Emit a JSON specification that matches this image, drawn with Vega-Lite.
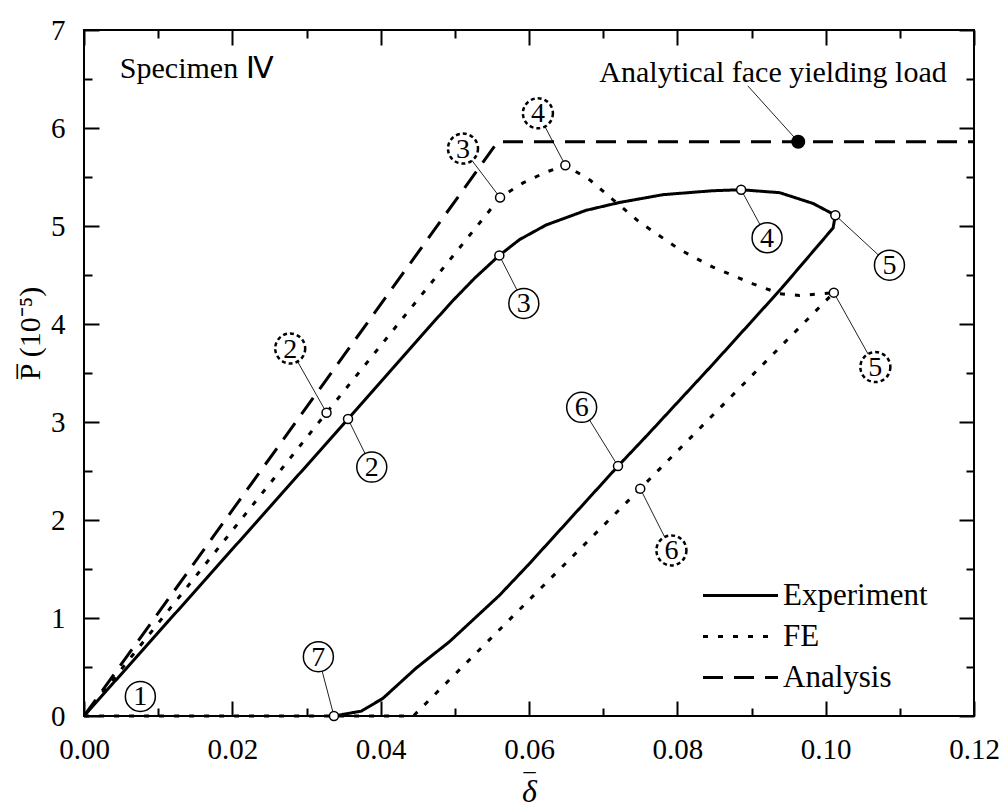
{
  "$schema": "https://vega.github.io/schema/vega-lite/v6.json",
  "width": 890,
  "height": 686,
  "autosize": {"type": "none"},
  "padding": {"left": 84, "top": 30, "right": 29, "bottom": 92},
  "config": {
    "font": "Liberation Serif",
    "view": {"stroke": "black", "strokeWidth": 2},
    "style": {"guide-label": {"font": "Liberation Serif"}, "guide-title": {"font": "Liberation Serif"}},
    "axis": {"domain": false, "grid": false, "tickColor": "black", "tickWidth": 2, "labelColor": "black", "labelFont": "Liberation Serif", "labelFontSize": 29, "titleFont": "Liberation Serif", "titleColor": "black", "titleFontWeight": "normal", "labelFlush": false, "labelOverlap": false, "labelBound": false}
  },
  "datasets": {
    "curves": [
      {"s": "Experiment", "i": 0, "d": 0, "p": 0},
      {"s": "Experiment", "i": 1, "d": 0.0356, "p": 3.03},
      {"s": "Experiment", "i": 2, "d": 0.0462, "p": 3.94},
      {"s": "Experiment", "i": 3, "d": 0.0495, "p": 4.22},
      {"s": "Experiment", "i": 4, "d": 0.0527, "p": 4.47},
      {"s": "Experiment", "i": 5, "d": 0.056, "p": 4.7},
      {"s": "Experiment", "i": 6, "d": 0.0587, "p": 4.86},
      {"s": "Experiment", "i": 7, "d": 0.0623, "p": 5.01},
      {"s": "Experiment", "i": 8, "d": 0.0677, "p": 5.16},
      {"s": "Experiment", "i": 9, "d": 0.0722, "p": 5.24},
      {"s": "Experiment", "i": 10, "d": 0.0781, "p": 5.32},
      {"s": "Experiment", "i": 11, "d": 0.0848, "p": 5.36},
      {"s": "Experiment", "i": 12, "d": 0.0886, "p": 5.37},
      {"s": "Experiment", "i": 13, "d": 0.0938, "p": 5.34},
      {"s": "Experiment", "i": 14, "d": 0.0983, "p": 5.23},
      {"s": "Experiment", "i": 15, "d": 0.1013, "p": 5.11},
      {"s": "Experiment", "i": 16, "d": 0.101, "p": 4.98},
      {"s": "Experiment", "i": 17, "d": 0.094, "p": 4.36},
      {"s": "Experiment", "i": 18, "d": 0.0848, "p": 3.59},
      {"s": "Experiment", "i": 19, "d": 0.076, "p": 2.87},
      {"s": "Experiment", "i": 20, "d": 0.072, "p": 2.55},
      {"s": "Experiment", "i": 21, "d": 0.066, "p": 2.05},
      {"s": "Experiment", "i": 22, "d": 0.06, "p": 1.55},
      {"s": "Experiment", "i": 23, "d": 0.056, "p": 1.23},
      {"s": "Experiment", "i": 24, "d": 0.0493, "p": 0.76},
      {"s": "Experiment", "i": 25, "d": 0.0448, "p": 0.49},
      {"s": "Experiment", "i": 26, "d": 0.0403, "p": 0.18},
      {"s": "Experiment", "i": 27, "d": 0.0374, "p": 0.05},
      {"s": "Experiment", "i": 28, "d": 0.0337, "p": 0.0},
      {"s": "FE", "i": 0, "d": 0, "p": 0},
      {"s": "FE", "i": 1, "d": 0.0327, "p": 3.095},
      {"s": "FE", "i": 2, "d": 0.0561, "p": 5.29},
      {"s": "FE", "i": 3, "d": 0.0592, "p": 5.44},
      {"s": "FE", "i": 4, "d": 0.0623, "p": 5.55},
      {"s": "FE", "i": 5, "d": 0.0649, "p": 5.62},
      {"s": "FE", "i": 6, "d": 0.0682, "p": 5.47},
      {"s": "FE", "i": 7, "d": 0.0713, "p": 5.27},
      {"s": "FE", "i": 8, "d": 0.0749, "p": 5.04},
      {"s": "FE", "i": 9, "d": 0.0803, "p": 4.76},
      {"s": "FE", "i": 10, "d": 0.0848, "p": 4.58},
      {"s": "FE", "i": 11, "d": 0.0902, "p": 4.41},
      {"s": "FE", "i": 12, "d": 0.0938, "p": 4.31},
      {"s": "FE", "i": 13, "d": 0.0965, "p": 4.29},
      {"s": "FE", "i": 14, "d": 0.1011, "p": 4.32},
      {"s": "FE", "i": 15, "d": 0.075, "p": 2.32},
      {"s": "FE", "i": 16, "d": 0.0444, "p": 0.0},
      {"s": "FE", "i": 17, "d": 0.0, "p": 0.0},
      {"s": "Analysis", "i": 0, "d": 0, "p": 0},
      {"s": "Analysis", "i": 1, "d": 0.0558, "p": 5.86},
      {"s": "Analysis", "i": 2, "d": 0.12, "p": 5.86}
    ],
    "markers": [
      {"s": "Experiment", "d": 0.0356, "p": 3.03},
      {"s": "Experiment", "d": 0.056, "p": 4.7},
      {"s": "Experiment", "d": 0.0886, "p": 5.37},
      {"s": "Experiment", "d": 0.1013, "p": 5.11},
      {"s": "Experiment", "d": 0.072, "p": 2.55},
      {"s": "Experiment", "d": 0.0337, "p": 0.0},
      {"s": "FE", "d": 0.0327, "p": 3.095},
      {"s": "FE", "d": 0.0561, "p": 5.29},
      {"s": "FE", "d": 0.0649, "p": 5.62},
      {"s": "FE", "d": 0.1011, "p": 4.32},
      {"s": "FE", "d": 0.075, "p": 2.32}
    ],
    "labels": [
      {"n": "1", "s": "Experiment", "d": 0.0076, "p": 0.2},
      {"n": "2", "s": "Experiment", "d": 0.0388, "p": 2.54},
      {"n": "3", "s": "Experiment", "d": 0.0593, "p": 4.21},
      {"n": "4", "s": "Experiment", "d": 0.0921, "p": 4.88},
      {"n": "5", "s": "Experiment", "d": 0.1086, "p": 4.6},
      {"n": "6", "s": "Experiment", "d": 0.0671, "p": 3.15},
      {"n": "7", "s": "Experiment", "d": 0.0316, "p": 0.605},
      {"n": "2", "s": "FE", "d": 0.0278, "p": 3.75},
      {"n": "3", "s": "FE", "d": 0.0511, "p": 5.79},
      {"n": "4", "s": "FE", "d": 0.0612, "p": 6.15},
      {"n": "5", "s": "FE", "d": 0.1067, "p": 3.56},
      {"n": "6", "s": "FE", "d": 0.0792, "p": 1.69}
    ],
    "leaders": [
      {"d": 0.0356, "p": 3.03, "d2": 0.0388, "p2": 2.54},
      {"d": 0.056, "p": 4.7, "d2": 0.0593, "p2": 4.21},
      {"d": 0.0886, "p": 5.37, "d2": 0.0921, "p2": 4.88},
      {"d": 0.1013, "p": 5.11, "d2": 0.1086, "p2": 4.6},
      {"d": 0.072, "p": 2.55, "d2": 0.0671, "p2": 3.15},
      {"d": 0.0337, "p": 0.0, "d2": 0.0316, "p2": 0.605},
      {"d": 0.0327, "p": 3.095, "d2": 0.0278, "p2": 3.75},
      {"d": 0.0561, "p": 5.29, "d2": 0.0511, "p2": 5.79},
      {"d": 0.0649, "p": 5.62, "d2": 0.0612, "p2": 6.15},
      {"d": 0.1011, "p": 4.32, "d2": 0.1067, "p2": 3.56},
      {"d": 0.075, "p": 2.32, "d2": 0.0792, "p2": 1.69},
      {"d": 0.0963, "p": 5.86, "d2": 0.0895, "p2": 6.43}
    ],
    "yieldpt": [{"d": 0.0963, "p": 5.86}],
    "notes": [
      {"t": "Specimen Ⅳ", "d": 0.0152, "p": 6.6},
      {"t": "Analytical face yielding load", "d": 0.0929, "p": 6.566}
    ]
  },
  "resolve": {"axis": {"x": "independent", "y": "independent"}},
  "layer": [
    {
      "data": {"name": "leaders"},
      "mark": {"type": "rule", "color": "#222", "strokeWidth": 1},
      "encoding": {
        "x": {"field": "d", "type": "quantitative", "scale": {"domain": [0, 0.12], "nice": false}, "axis": null},
        "y": {"field": "p", "type": "quantitative", "scale": {"domain": [0, 7], "nice": false}, "axis": null},
        "x2": {"field": "d2"},
        "y2": {"field": "p2"}
      }
    },
    {
      "data": {"name": "curves"},
      "mark": {"type": "line", "strokeWidth": 3, "strokeCap": "butt", "strokeJoin": "round"},
      "encoding": {
        "x": {"field": "d", "type": "quantitative", "scale": {"domain": [0, 0.12], "nice": false},
          "axis": {"orient": "bottom", "values": [0, 0.01, 0.02, 0.03, 0.04, 0.05, 0.06, 0.07, 0.08, 0.09, 0.1, 0.11, 0.12],
            "labelExpr": "round(datum.value*100) % 2 === 0 ? format(datum.value, '.2f') : ''",
            "tickSize": {"condition": {"test": "round(datum.value*100) % 2 === 0", "value": -15}, "value": -8},
            "labelFont": "Liberation Serif", "labelFontSize": 29, "labelPadding": 34,
            "title": ["‾", "δ"], "titleFont": "Liberation Serif", "titleFontSize": 32, "titleFontStyle": "italic", "titleLineHeight": 5, "titlePadding": 0}},
        "y": {"field": "p", "type": "quantitative", "scale": {"domain": [0, 7], "nice": false},
          "axis": {"orient": "left", "values": [0, 0.5, 1, 1.5, 2, 2.5, 3, 3.5, 4, 4.5, 5, 5.5, 6, 6.5, 7],
            "labelExpr": "datum.value % 1 === 0 ? format(datum.value, 'd') : ''",
            "tickSize": {"condition": {"test": "datum.value % 1 === 0", "value": -15}, "value": -8},
            "labelFont": "Liberation Serif", "labelFontSize": 29, "labelPadding": 34,
            "title": "P̅ (10⁻⁵)", "titleFont": "Liberation Serif", "titleFontSize": 30, "titleAngle": 270, "titleX": -54, "titleY": 303, "titleAlign": "center", "titleBaseline": "middle"}},
        "color": {"field": "s", "type": "nominal", "scale": {"domain": ["Experiment", "FE", "Analysis"], "range": ["black", "black", "black"]},
          "legend": {"orient": "none", "legendX": 640, "legendY": 549, "title": null, "symbolType": "M-2.5,0H2.5", "symbolSize": 900, "symbolStrokeWidth": 3, "labelFontSize": 31, "labelFont": "Liberation Serif", "labelColor": "black", "rowPadding": 9, "labelOffset": 26, "padding": 0}},
        "strokeDash": {"field": "s", "type": "nominal", "scale": {"domain": ["Experiment", "FE", "Analysis"], "range": [[1, 0], [5, 10], [20, 11]]},
          "legend": {"orient": "none", "legendX": 640, "legendY": 549, "title": null, "symbolType": "M-2.5,0H2.5", "symbolSize": 900, "symbolStrokeWidth": 3, "labelFontSize": 31, "labelFont": "Liberation Serif", "labelColor": "black", "rowPadding": 9, "labelOffset": 26, "padding": 0}},
        "order": {"field": "i", "type": "quantitative"}
      }
    },
    {
      "data": {"name": "labels"},
      "transform": [{"filter": "datum.s === 'Experiment'"}],
      "mark": {"type": "point", "shape": "circle", "size": 900, "filled": false, "fill": "white", "fillOpacity": 1, "stroke": "black", "strokeWidth": 1.5, "opacity": 1},
      "encoding": {
        "x": {"field": "d", "type": "quantitative", "axis": null},
        "y": {"field": "p", "type": "quantitative", "axis": null}
      }
    },
    {
      "data": {"name": "labels"},
      "transform": [{"filter": "datum.s === 'FE'"}],
      "mark": {"type": "point", "shape": "circle", "size": 900, "filled": false, "fill": "white", "fillOpacity": 1, "stroke": "black", "strokeWidth": 2.5, "strokeDash": [4, 3], "opacity": 1},
      "encoding": {
        "x": {"field": "d", "type": "quantitative", "axis": null},
        "y": {"field": "p", "type": "quantitative", "axis": null}
      }
    },
    {
      "data": {"name": "labels"},
      "mark": {"type": "text", "fontSize": 28, "font": "Liberation Serif", "align": "center", "baseline": "middle", "color": "black", "dy": 1},
      "encoding": {
        "x": {"field": "d", "type": "quantitative", "axis": null},
        "y": {"field": "p", "type": "quantitative", "axis": null},
        "text": {"field": "n"}
      }
    },
    {
      "data": {"name": "markers"},
      "mark": {"type": "point", "shape": "circle", "size": 81, "filled": false, "fill": "white", "fillOpacity": 1, "stroke": "black", "strokeWidth": 1.5, "opacity": 1},
      "encoding": {
        "x": {"field": "d", "type": "quantitative", "axis": null},
        "y": {"field": "p", "type": "quantitative", "axis": null}
      }
    },
    {
      "data": {"name": "yieldpt"},
      "mark": {"type": "point", "shape": "circle", "size": 200, "filled": true, "color": "black", "opacity": 1},
      "encoding": {
        "x": {"field": "d", "type": "quantitative",
          "axis": {"orient": "top", "values": [0, 0.01, 0.02, 0.03, 0.04, 0.05, 0.06, 0.07, 0.08, 0.09, 0.1, 0.11, 0.12], "labels": false, "title": null,
            "tickSize": {"condition": {"test": "round(datum.value*100) % 2 === 0", "value": -15}, "value": -8}}},
        "y": {"field": "p", "type": "quantitative",
          "axis": {"orient": "right", "values": [0, 0.5, 1, 1.5, 2, 2.5, 3, 3.5, 4, 4.5, 5, 5.5, 6, 6.5, 7], "labels": false, "title": null,
            "tickSize": {"condition": {"test": "datum.value % 1 === 0", "value": -15}, "value": -8}}}
      }
    },
    {
      "data": {"name": "notes"},
      "mark": {"type": "text", "fontSize": 30, "font": "Liberation Serif", "align": "center", "baseline": "middle", "color": "black"},
      "encoding": {
        "x": {"field": "d", "type": "quantitative", "axis": null},
        "y": {"field": "p", "type": "quantitative", "axis": null},
        "text": {"field": "t"}
      }
    }
  ]
}
